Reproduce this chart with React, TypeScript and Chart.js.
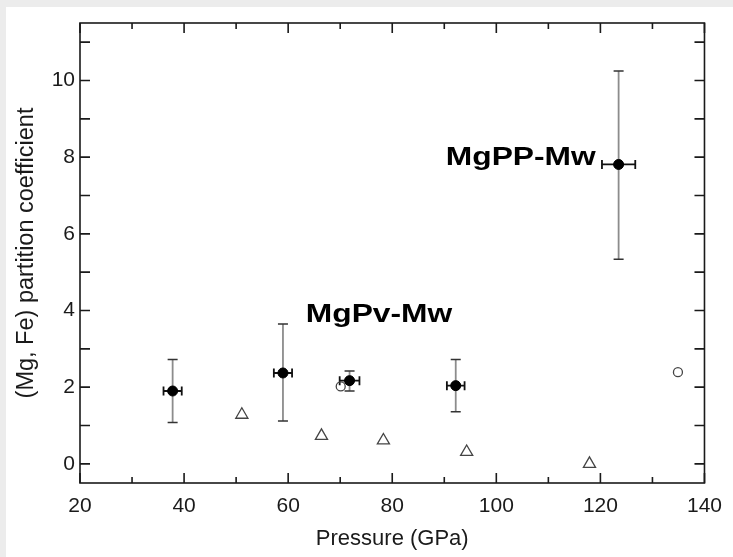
import React, { useEffect, useRef } from "react";
import { Chart, registerables } from "chart.js";

Chart.register(...registerables);

// MgPv-Mw (filled circles with error bars)
const pvPressure = [37.8, 59.0, 71.8, 92.2];
const pvCoef = [1.9, 2.37, 2.17, 2.04];
const pvCoefLow = [1.08, 1.12, 1.9, 1.36];
const pvCoefHigh = [2.72, 3.65, 2.42, 2.72];
const pvPressureErr = [1.75, 1.75, 1.9, 1.7];

// MgPP-Mw (filled circle with error bars)
const ppPressure = [123.5];
const ppCoef = [7.81];
const ppCoefLow = [5.34];
const ppCoefHigh = [10.25];
const ppPressureErr = [3.2];

// open circles
const openCirclePressure = [70.1, 134.9];
const openCircleCoef = [2.02, 2.39];

// open triangles
const trianglePressure = [51.1, 66.4, 78.3, 94.3, 117.9];
const triangleCoef = [1.28, 0.73, 0.61, 0.31, 0.0];

// axes
const xMajorTicks = [20, 40, 60, 80, 100, 120, 140];
const xMinorTicks = [30, 50, 70, 90, 110, 130];
const yMajorTicks = [0, 2, 4, 6, 8, 10];
const yMinorTicks = [1, 3, 5, 7, 9, 11];
const xMin = 20;
const xMax = 140;
const yMin = -0.5;
const yMax = 11.5;

// annotation labels
const labelTexts = ["MgPv-Mw", "MgPP-Mw"];
const labelX = [63.4, 119.1];
const labelY = [3.71, 7.79];
const labelAlign = ["left", "right"];

const FONT = '"Liberation Sans", Arial, Helvetica, sans-serif';

const allPressure = [...pvPressure, ...ppPressure];
const allCoef = [...pvCoef, ...ppCoef];
const allLow = [...pvCoefLow, ...ppCoefLow];
const allHigh = [...pvCoefHigh, ...ppCoefHigh];
const allXErr = [...pvPressureErr, ...ppPressureErr];

const decorPlugin = {
  id: "decor",
  beforeDraw(chart: any) {
    const { ctx, width, height } = chart;
    ctx.save();
    ctx.fillStyle = "#ececec";
    ctx.fillRect(0, 0, width, height);
    ctx.fillStyle = "#ffffff";
    ctx.fillRect(6, 7, width - 6, height - 7);
    ctx.restore();
  },
  beforeDatasetsDraw(chart: any) {
    const { ctx, scales } = chart;
    const xs = scales.x;
    const ys = scales.y;
    ctx.save();
    for (let i = 0; i < allPressure.length; i++) {
      const px = xs.getPixelForValue(allPressure[i]);
      const py = ys.getPixelForValue(allCoef[i]);
      const pyLo = ys.getPixelForValue(allLow[i]);
      const pyHi = ys.getPixelForValue(allHigh[i]);
      const pxL = xs.getPixelForValue(allPressure[i] - allXErr[i]);
      const pxR = xs.getPixelForValue(allPressure[i] + allXErr[i]);
      ctx.strokeStyle = "#8c8c8c";
      ctx.lineWidth = 1.8;
      ctx.beginPath();
      ctx.moveTo(px, pyLo);
      ctx.lineTo(px, pyHi);
      ctx.stroke();
      ctx.strokeStyle = "#333";
      ctx.lineWidth = 1.5;
      ctx.beginPath();
      ctx.moveTo(px - 5, pyLo);
      ctx.lineTo(px + 5, pyLo);
      ctx.moveTo(px - 5, pyHi);
      ctx.lineTo(px + 5, pyHi);
      ctx.stroke();
      ctx.strokeStyle = "#111";
      ctx.lineWidth = 1.8;
      ctx.beginPath();
      ctx.moveTo(pxL, py);
      ctx.lineTo(pxR, py);
      ctx.moveTo(pxL, py - 4.5);
      ctx.lineTo(pxL, py + 4.5);
      ctx.moveTo(pxR, py - 4.5);
      ctx.lineTo(pxR, py + 4.5);
      ctx.stroke();
    }
    ctx.restore();
  },
  afterDraw(chart: any) {
    const { ctx, chartArea, scales } = chart;
    const xs = scales.x;
    const ys = scales.y;
    const { left, right, top, bottom } = chartArea;
    ctx.save();
    ctx.strokeStyle = "#1a1a1a";
    ctx.lineWidth = 1.6;
    ctx.strokeRect(left, top, right - left, bottom - top);
    ctx.beginPath();
    const xTick = (v: number, len: number) => {
      const p = xs.getPixelForValue(v);
      ctx.moveTo(p, bottom);
      ctx.lineTo(p, bottom - len);
      ctx.moveTo(p, top);
      ctx.lineTo(p, top + len);
    };
    xMajorTicks.forEach((v) => xTick(v, 10));
    xMinorTicks.forEach((v) => xTick(v, 6));
    const yTick = (v: number, len: number) => {
      const p = ys.getPixelForValue(v);
      ctx.moveTo(left, p);
      ctx.lineTo(left + len, p);
      ctx.moveTo(right, p);
      ctx.lineTo(right - len, p);
    };
    yMajorTicks.forEach((v) => yTick(v, 10));
    yMinorTicks.forEach((v) => yTick(v, 10));
    ctx.stroke();

    ctx.fillStyle = "#000";
    ctx.font = `bold 25px ${FONT}`;
    ctx.textBaseline = "alphabetic";
    const sx = 1.27;
    for (let i = 0; i < labelTexts.length; i++) {
      const px = xs.getPixelForValue(labelX[i]);
      const py = ys.getPixelForValue(labelY[i]);
      const w = ctx.measureText(labelTexts[i]).width * sx;
      ctx.save();
      ctx.translate(labelAlign[i] === "right" ? px - w : px, py);
      ctx.scale(sx, 1);
      ctx.textAlign = "left";
      ctx.fillText(labelTexts[i], 0, 0);
      ctx.restore();
    }
    ctx.restore();
  },
};

export default function App() {
  const ref = useRef<HTMLCanvasElement>(null);
  useEffect(() => {
    if (!ref.current) return;
    const chart = new Chart(ref.current, {
      type: "scatter",
      data: {
        datasets: [
          {
            label: "MgPv-Mw / MgPP-Mw",
            data: allPressure.map((x, i) => ({ x, y: allCoef[i] })),
            pointRadius: 5,
            pointBackgroundColor: "#000",
            pointBorderColor: "#000",
            pointBorderWidth: 1,
          },
          {
            label: "open circles",
            data: openCirclePressure.map((x, i) => ({ x, y: openCircleCoef[i] })),
            pointRadius: 4.5,
            pointBackgroundColor: "rgba(0,0,0,0)",
            pointBorderColor: "#444",
            pointBorderWidth: 1.3,
          },
          {
            label: "open triangles",
            data: trianglePressure.map((x, i) => ({ x, y: triangleCoef[i] })),
            pointStyle: "triangle",
            pointRadius: 7,
            pointBackgroundColor: "rgba(0,0,0,0)",
            pointBorderColor: "#444",
            pointBorderWidth: 1.3,
          },
        ],
      },
      options: {
        animation: false,
        responsive: false,
        devicePixelRatio: 1,
        layout: { padding: { top: 23, right: 26, left: 0, bottom: 0 } },
        plugins: { legend: { display: false }, tooltip: { enabled: false } },
        scales: {
          x: {
            type: "linear",
            min: xMin,
            max: xMax,
            grid: { display: false, drawTicks: false },
            border: { display: false },
            afterBuildTicks: (s: any) => {
              s.ticks = xMajorTicks.map((v) => ({ value: v }));
            },
            afterFit: (s: any) => {
              s.height = 74;
            },
            ticks: {
              color: "#1a1a1a",
              padding: 11,
              maxRotation: 0,
              font: { family: FONT, size: 21 },
            },
            title: {
              display: true,
              text: "Pressure (GPa)",
              color: "#1a1a1a",
              font: { family: FONT, size: 22 },
              padding: { top: 0, bottom: 5 },
            },
          },
          y: {
            type: "linear",
            min: yMin,
            max: yMax,
            grid: { display: false, drawTicks: false },
            border: { display: false },
            afterBuildTicks: (s: any) => {
              s.ticks = yMajorTicks.map((v) => ({ value: v }));
            },
            afterFit: (s: any) => {
              s.width = 80;
            },
            ticks: {
              color: "#1a1a1a",
              padding: 5,
              font: { family: FONT, size: 21 },
            },
            title: {
              display: true,
              text: "(Mg, Fe) partition coefficient",
              color: "#1a1a1a",
              font: { family: FONT, size: 23.5 },
              padding: { top: 12, bottom: 0 },
            },
          },
        },
      },
      plugins: [decorPlugin],
    } as any);
    return () => chart.destroy();
  }, []);
  return (
    <div style={{ position: "fixed", left: 0, top: 0, width: 733, height: 557 }}>
      <canvas ref={ref} width={733} height={557} style={{ display: "block" }} />
    </div>
  );
}
